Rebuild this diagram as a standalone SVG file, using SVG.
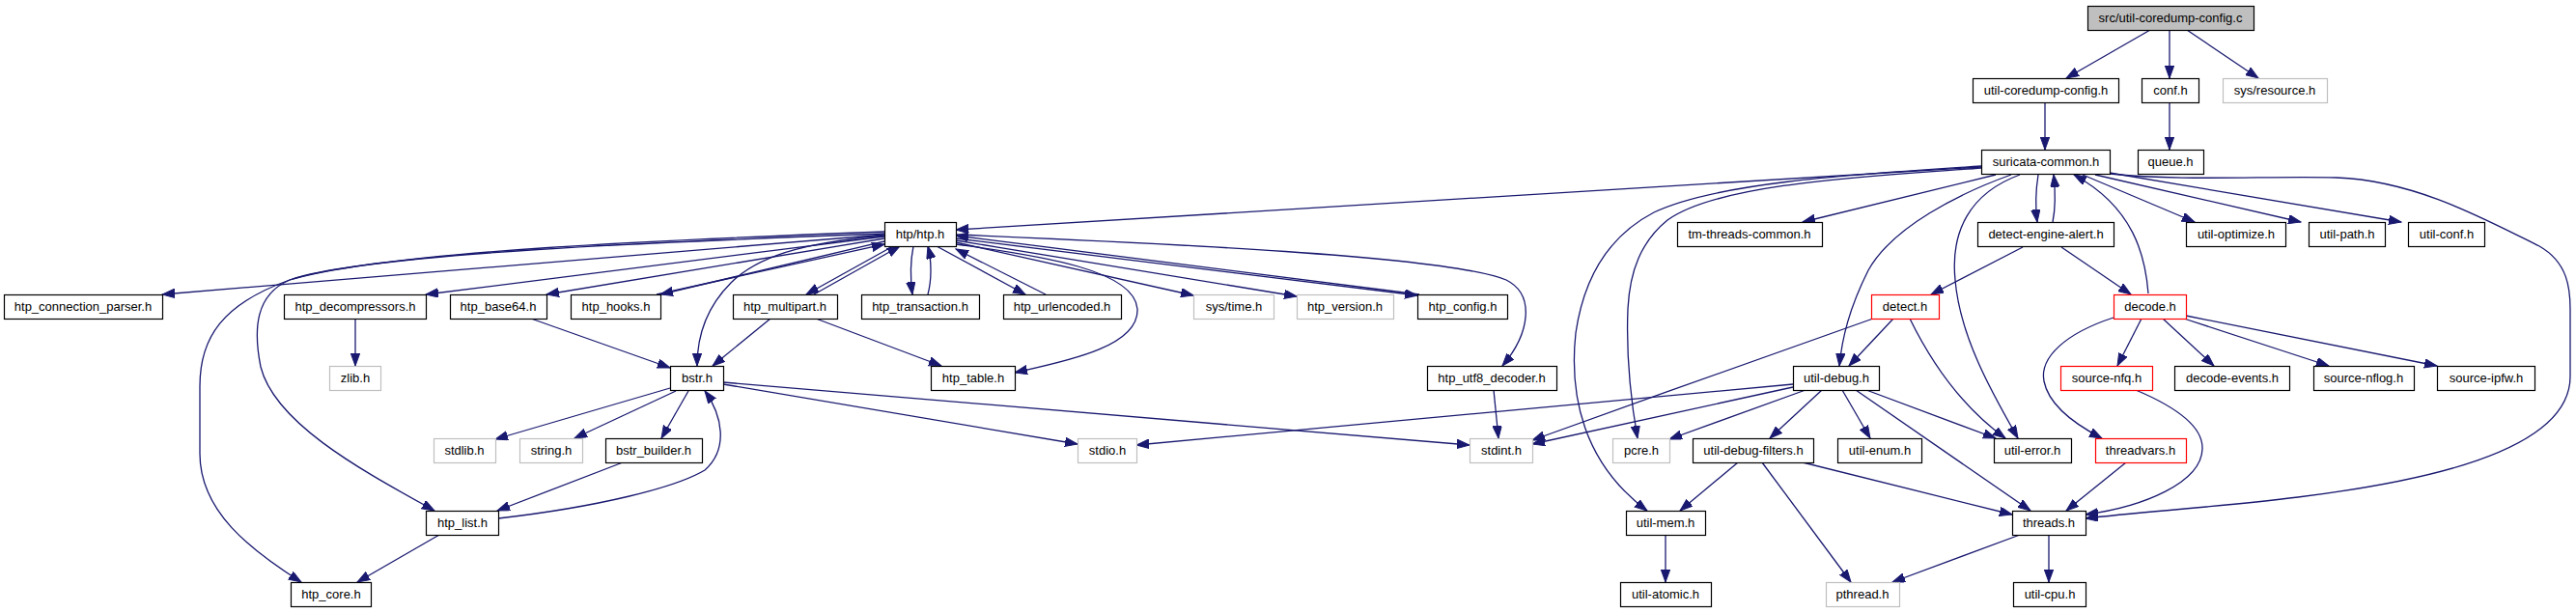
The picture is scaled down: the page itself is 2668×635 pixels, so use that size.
<svg xmlns="http://www.w3.org/2000/svg" width="2668" height="635" viewBox="0 0 2668 635">
<style>
text{font-family:"Liberation Sans",Arial,sans-serif;font-size:13px;text-anchor:middle;fill:#000}
.n rect{fill:#fff;stroke:#000;stroke-width:1.2}
.g rect{fill:#fff;stroke:#bfbfbf;stroke-width:1.2}
.r rect{fill:#fff;stroke:#ff0000;stroke-width:1.2}
.root rect{fill:#bfbfbf;stroke:#000;stroke-width:1.2}
#edges path{fill:none;stroke:#191970;stroke-width:1.3;marker-end:url(#ah)}
</style>
<defs>
<marker id="ah" markerUnits="userSpaceOnUse" markerWidth="14" markerHeight="10" refX="13" refY="4.7" orient="auto">
<path d="M0,0 L13,4.7 L0,9.4 z" fill="#191970" stroke="#191970" stroke-width="1"/>
</marker>
</defs>
<rect width="2668" height="635" fill="#fff"/>
<g id="edges">
<path d="M2227,31 L2140,81"/>
<path d="M2247,31 L2247,81"/>
<path d="M2265,31 L2339,81"/>
<path d="M2118,106 L2118,155"/>
<path d="M2247,106 L2247,155"/>
<path d="M2052,173 L990,238"/>
<path d="M2067,181 L1867,230"/>
<path d="M2083,181 C2030,200 1960,235 1935,280 C1915,320 1908,350 1905,379"/>
<path d="M2092,181 C2040,200 2020,240 2025,290 C2030,350 2065,410 2090,454"/>
<path d="M2111,181 C2108,200 2108,215 2110,230"/>
<path d="M2126,230 C2129,215 2129,200 2127,181"/>
<path d="M2157,181 L2273,230"/>
<path d="M2170,181 L2383,230"/>
<path d="M2185,179 L2487,230"/>
<path d="M2185,180 C2260,188 2350,182 2420,184 C2500,187 2570,225 2630,255 C2660,272 2662,300 2662,320 L2662,390 C2662,470 2500,500 2380,515 C2300,525 2220,530 2160,537"/>
<path d="M2225,304 C2222,265 2210,215 2148,181"/>
<path d="M2052,172 C1930,180 1780,188 1713,220 C1665,245 1640,290 1632,345 C1625,410 1640,480 1706,529"/>
<path d="M2052,174 C1930,183 1780,190 1727,228 C1700,250 1688,280 1686,320 C1684,370 1690,420 1696,454"/>
<path d="M2095,256 L2000,305"/>
<path d="M2135,256 L2207,305"/>
<path d="M1961,330 L1915,379"/>
<path d="M1978,330 C2000,375 2030,420 2077,454"/>
<path d="M1940,330 C1850,362 1700,415 1587,456"/>
<path d="M1887,404 L1833,454"/>
<path d="M1908,404 L1937,454"/>
<path d="M1933,404 L2067,454"/>
<path d="M1922,404 L2103,529"/>
<path d="M1857,398 L1177,461"/>
<path d="M1857,401 L1587,460"/>
<path d="M1870,404 L1729,455"/>
<path d="M916,243 L168,305"/>
<path d="M916,245 L441,305"/>
<path d="M916,247 L566,305"/>
<path d="M916,250 L684,305"/>
<path d="M680,305 L916,253"/>
<path d="M925,255 L835,305"/>
<path d="M843,305 L932,255"/>
<path d="M946,255 C943,270 943,290 945,305"/>
<path d="M961,305 C965,290 965,270 961,255"/>
<path d="M970,255 L1062,305"/>
<path d="M1083,305 L990,258"/>
<path d="M990,251 L1236,306"/>
<path d="M990,249 L1343,307"/>
<path d="M990,247 L1468,306"/>
<path d="M1470,305 L990,244"/>
<path d="M990,253 C1080,265 1175,280 1178,320 C1180,360 1100,375 1051,386"/>
<path d="M990,243 C1200,252 1500,265 1560,290 C1590,305 1585,345 1556,379"/>
<path d="M916,244 C850,250 790,260 757,293 C730,320 722,350 722,379"/>
<path d="M916,240 C700,248 400,260 300,290 C230,315 207,350 207,400 L207,470 C207,530 260,570 312,603"/>
<path d="M916,242 C700,250 380,262 300,290 C265,305 262,340 270,380 C285,440 380,490 450,529"/>
<path d="M516,537 C620,525 700,505 730,487 C755,465 748,430 730,405"/>
<path d="M455,554 L370,603"/>
<path d="M645,479 L515,529"/>
<path d="M694,402 L513,455"/>
<path d="M700,405 L595,454"/>
<path d="M713,405 L685,454"/>
<path d="M749,398 L1116,460"/>
<path d="M749,396 L1522,461"/>
<path d="M550,330 L694,381"/>
<path d="M798,330 L738,379"/>
<path d="M845,330 L975,379"/>
<path d="M368,330 L368,379"/>
<path d="M1547,404 L1552,454"/>
<path d="M1800,479 L1740,529"/>
<path d="M1825,479 L1917,603"/>
<path d="M1867,479 L2084,533"/>
<path d="M1725,554 L1725,603"/>
<path d="M2092,554 L1960,603"/>
<path d="M2122,554 L2122,603"/>
<path d="M2202,479 L2140,529"/>
<path d="M2212,404 C2250,420 2282,440 2281,465 C2280,500 2220,525 2160,533"/>
<path d="M2218,330 L2193,379"/>
<path d="M2189,329 C2140,345 2112,370 2117,395 C2122,420 2150,440 2177,454"/>
<path d="M2240,330 L2293,379"/>
<path d="M2262,330 L2412,379"/>
<path d="M2264,327 L2524,379"/>
</g>
<g id="n_root" class="root"><rect x="2162.5" y="6.5" width="172" height="25"/><text x="2248" y="23">src/util-coredump-config.c</text></g>
<g id="n_ucch" class="n"><rect x="2043.5" y="81.5" width="151" height="25"/><text x="2119" y="98">util-coredump-config.h</text></g>
<g id="n_conf" class="n"><rect x="2218.5" y="81.5" width="59" height="25"/><text x="2248" y="98">conf.h</text></g>
<g id="n_sysres" class="g"><rect x="2302.5" y="81.5" width="108" height="25"/><text x="2356" y="98">sys/resource.h</text></g>
<g id="n_sc" class="n"><rect x="2052.5" y="155.5" width="133" height="25"/><text x="2119" y="172">suricata-common.h</text></g>
<g id="n_queue" class="n"><rect x="2214.5" y="155.5" width="68" height="25"/><text x="2248" y="172">queue.h</text></g>
<g id="n_htp" class="n"><rect x="916.5" y="230.5" width="74" height="25"/><text x="953" y="247">htp/htp.h</text></g>
<g id="n_tmtc" class="n"><rect x="1737.5" y="230.5" width="150" height="25"/><text x="1812" y="247">tm-threads-common.h</text></g>
<g id="n_dea" class="n"><rect x="2048.5" y="230.5" width="141" height="25"/><text x="2119" y="247">detect-engine-alert.h</text></g>
<g id="n_uopt" class="n"><rect x="2264.5" y="230.5" width="103" height="25"/><text x="2316" y="247">util-optimize.h</text></g>
<g id="n_upath" class="n"><rect x="2391.5" y="230.5" width="79" height="25"/><text x="2431" y="247">util-path.h</text></g>
<g id="n_uconf" class="n"><rect x="2494.5" y="230.5" width="79" height="25"/><text x="2534" y="247">util-conf.h</text></g>
<g id="n_hcp" class="n"><rect x="4.5" y="305.5" width="164" height="25"/><text x="86" y="322">htp_connection_parser.h</text></g>
<g id="n_hdec" class="n"><rect x="294.5" y="305.5" width="147" height="25"/><text x="368" y="322">htp_decompressors.h</text></g>
<g id="n_hb64" class="n"><rect x="466.5" y="305.5" width="100" height="25"/><text x="516" y="322">htp_base64.h</text></g>
<g id="n_hhooks" class="n"><rect x="591.5" y="305.5" width="93" height="25"/><text x="638" y="322">htp_hooks.h</text></g>
<g id="n_hmp" class="n"><rect x="759.5" y="305.5" width="108" height="25"/><text x="813" y="322">htp_multipart.h</text></g>
<g id="n_htx" class="n"><rect x="892.5" y="305.5" width="122" height="25"/><text x="953" y="322">htp_transaction.h</text></g>
<g id="n_hurl" class="n"><rect x="1039.5" y="305.5" width="122" height="25"/><text x="1100" y="322">htp_urlencoded.h</text></g>
<g id="n_systime" class="g"><rect x="1236.5" y="305.5" width="83" height="25"/><text x="1278" y="322">sys/time.h</text></g>
<g id="n_hver" class="g"><rect x="1343.5" y="305.5" width="100" height="25"/><text x="1393" y="322">htp_version.h</text></g>
<g id="n_hcfg" class="n"><rect x="1468.5" y="305.5" width="93" height="25"/><text x="1515" y="322">htp_config.h</text></g>
<g id="n_detect" class="r"><rect x="1938.5" y="305.5" width="70" height="25"/><text x="1973" y="322">detect.h</text></g>
<g id="n_decode" class="r"><rect x="2189.5" y="305.5" width="75" height="25"/><text x="2227" y="322">decode.h</text></g>
<g id="n_zlib" class="g"><rect x="341.5" y="379.5" width="53" height="25"/><text x="368" y="396">zlib.h</text></g>
<g id="n_bstr" class="n"><rect x="694.5" y="379.5" width="55" height="25"/><text x="722" y="396">bstr.h</text></g>
<g id="n_htable" class="n"><rect x="964.5" y="379.5" width="87" height="25"/><text x="1008" y="396">htp_table.h</text></g>
<g id="n_hutf8" class="n"><rect x="1478.5" y="379.5" width="134" height="25"/><text x="1545" y="396">htp_utf8_decoder.h</text></g>
<g id="n_udebug" class="n"><rect x="1857.5" y="379.5" width="89" height="25"/><text x="1902" y="396">util-debug.h</text></g>
<g id="n_nfq" class="r"><rect x="2134.5" y="379.5" width="95" height="25"/><text x="2182" y="396">source-nfq.h</text></g>
<g id="n_devents" class="n"><rect x="2252.5" y="379.5" width="119" height="25"/><text x="2312" y="396">decode-events.h</text></g>
<g id="n_nflog" class="n"><rect x="2396.5" y="379.5" width="104" height="25"/><text x="2448" y="396">source-nflog.h</text></g>
<g id="n_ipfw" class="n"><rect x="2524.5" y="379.5" width="101" height="25"/><text x="2575" y="396">source-ipfw.h</text></g>
<g id="n_stdlib" class="g"><rect x="449.5" y="454.5" width="64" height="25"/><text x="481" y="471">stdlib.h</text></g>
<g id="n_string" class="g"><rect x="538.5" y="454.5" width="65" height="25"/><text x="571" y="471">string.h</text></g>
<g id="n_bb" class="n"><rect x="627.5" y="454.5" width="100" height="25"/><text x="677" y="471">bstr_builder.h</text></g>
<g id="n_stdio" class="g"><rect x="1116.5" y="454.5" width="61" height="25"/><text x="1147" y="471">stdio.h</text></g>
<g id="n_stdint" class="g"><rect x="1522.5" y="454.5" width="65" height="25"/><text x="1555" y="471">stdint.h</text></g>
<g id="n_pcre" class="g"><rect x="1670.5" y="454.5" width="59" height="25"/><text x="1700" y="471">pcre.h</text></g>
<g id="n_udf" class="n"><rect x="1753.5" y="454.5" width="125" height="25"/><text x="1816" y="471">util-debug-filters.h</text></g>
<g id="n_uenum" class="n"><rect x="1903.5" y="454.5" width="87" height="25"/><text x="1947" y="471">util-enum.h</text></g>
<g id="n_uerr" class="n"><rect x="2065.5" y="454.5" width="80" height="25"/><text x="2105" y="471">util-error.h</text></g>
<g id="n_tv" class="r"><rect x="2170.5" y="454.5" width="94" height="25"/><text x="2217" y="471">threadvars.h</text></g>
<g id="n_hlist" class="n"><rect x="441.5" y="529.5" width="75" height="25"/><text x="479" y="546">htp_list.h</text></g>
<g id="n_umem" class="n"><rect x="1684.5" y="529.5" width="82" height="25"/><text x="1725" y="546">util-mem.h</text></g>
<g id="n_threads" class="n"><rect x="2084.5" y="529.5" width="76" height="25"/><text x="2122" y="546">threads.h</text></g>
<g id="n_hcore" class="n"><rect x="301.5" y="603.5" width="83" height="25"/><text x="343" y="620">htp_core.h</text></g>
<g id="n_uatomic" class="n"><rect x="1678.5" y="603.5" width="94" height="25"/><text x="1725" y="620">util-atomic.h</text></g>
<g id="n_pthread" class="g"><rect x="1891.5" y="603.5" width="76" height="25"/><text x="1929" y="620">pthread.h</text></g>
<g id="n_ucpu" class="n"><rect x="2085.5" y="603.5" width="75" height="25"/><text x="2123" y="620">util-cpu.h</text></g>
</svg>
